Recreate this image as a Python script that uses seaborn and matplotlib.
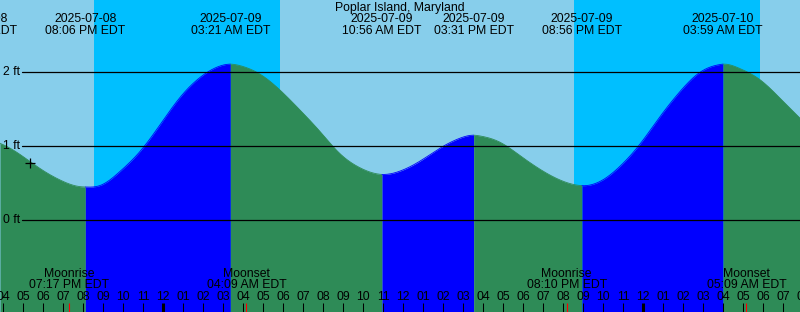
import numpy as np
import pandas as pd
import matplotlib
matplotlib.use("Agg")
import matplotlib.pyplot as plt
import seaborn as sns
from matplotlib.transforms import blended_transform_factory

# ---------------- data ----------------
station = "Poplar Island, Maryland"
view_start = "2025-07-08 15:50"
view_end = "2025-07-10 07:50"
sample_start = "2025-07-08 15:50"   # heights read every hour from here
sample_heights = [1.04, 0.89, 0.70, 0.545, 0.455, 0.47, 0.66, 0.93, 1.29, 1.66,
                  1.93, 2.085, 2.09, 1.975, 1.76, 1.49, 1.20, 0.90, 0.71, 0.622,
                  0.665, 0.80, 0.975, 1.11, 1.14, 1.055, 0.875, 0.69, 0.545, 0.47,
                  0.525, 0.73, 1.03, 1.40, 1.74, 2.00, 2.105, 2.05, 1.90, 1.65, 1.38]
prev_high_time = "2025-07-08 14:41"
prev_high_height = 1.11
extreme_times = ["2025-07-08 20:06", "2025-07-09 03:21", "2025-07-09 10:56",
                 "2025-07-09 15:31", "2025-07-09 20:56", "2025-07-10 03:59"]
extreme_heights = [0.45, 2.11, 0.62, 1.15, 0.468, 2.11]
extreme_types = ["low", "high", "low", "high", "low", "high"]
sunsets = ["2025-07-08 20:32", "2025-07-09 20:32"]
sunrises = ["2025-07-09 05:50", "2025-07-10 05:50"]
moon_times = ["2025-07-08 19:17", "2025-07-09 04:09", "2025-07-09 20:10", "2025-07-10 05:09"]
moon_events = ["Moonrise", "Moonset", "Moonrise", "Moonset"]
depth_ticks = [0, 1, 2]
now_time = "2025-07-08 17:20"
now_height = 0.78

# ---------------- style ----------------
DAY = "#87CEEB"
NIGHT = "#00BFFF"
RISE = "#0000FF"
FALL = "#2E8B57"
W, H = 800, 312

sns.set_theme(style="white")
plt.rcParams["font.family"] = ["Liberation Sans", "DejaVu Sans"]
FS = 8.8

t0 = pd.Timestamp("2025-07-08 16:00")
def hrs(s):
    return (pd.Timestamp(s) - t0) / pd.Timedelta(hours=1)


def smooth_curve(x, y, xn):
    """Natural cubic spline through the read points (used only for drawing)."""
    x = np.asarray(x, float); y = np.asarray(y, float)
    n = len(x)
    h = np.diff(x); delta = np.diff(y) / h
    A = np.zeros((n, n)); b = np.zeros(n)
    A[0, 0] = A[-1, -1] = 1.0
    for i in range(1, n - 1):
        A[i, i - 1] = h[i - 1]
        A[i, i] = 2 * (h[i - 1] + h[i])
        A[i, i + 1] = h[i]
        b[i] = 6 * (delta[i] - delta[i - 1])
    M = np.linalg.solve(A, b)
    idx = np.clip(np.searchsorted(x, xn) - 1, 0, n - 2)
    hi = h[idx]
    a = x[idx + 1] - xn
    c = xn - x[idx]
    return (M[idx] * a**3 / (6 * hi) + M[idx + 1] * c**3 / (6 * hi)
            + (y[idx] / hi - M[idx] * hi / 6) * a + (y[idx + 1] / hi - M[idx + 1] * hi / 6) * c)


x0, x1 = hrs(view_start), hrs(view_end)
px_per_ft = 74.0
zero_px = 220.3
y_top = zero_px / px_per_ft
y_bot = -(H - zero_px) / px_per_ft

fig = plt.figure(figsize=(W / 100, H / 100), dpi=100)
ax = fig.add_axes([0, 0, 1, 1])
ax.set_facecolor(DAY)
fig.patch.set_facecolor(DAY)

for ss, sr in zip(sunsets, sunrises):
    ax.axvspan(hrs(ss), hrs(sr), color=NIGHT, lw=0, zorder=0)

# tide series (read samples + read extremes)
samp_t = pd.date_range(sample_start, periods=len(sample_heights), freq="h")
df = pd.DataFrame({"hours": [(t - t0) / pd.Timedelta(hours=1) for t in samp_t],
                   "height": sample_heights})
ext = pd.DataFrame({"hours": [hrs(prev_high_time)] + [hrs(t) for t in extreme_times],
                    "height": [prev_high_height] + extreme_heights})
allpts = pd.concat([df, ext]).sort_values("hours").drop_duplicates("hours").reset_index(drop=True)

grid = np.union1d(np.linspace(x0, x1, 1601), [hrs(t) for t in extreme_times])
curve = pd.DataFrame({"hours": grid,
                      "height": smooth_curve(allpts["hours"], allpts["height"], grid)})

bounds = [x0] + [hrs(t) for t in extreme_times] + [x1]
kinds_next = list(extreme_types) + ["low"]
rows = []
for i in range(len(bounds) - 1):
    seg = curve[(curve["hours"] >= bounds[i]) & (curve["hours"] <= bounds[i + 1])].copy()
    phase = "rising" if kinds_next[i] == "high" else "falling"
    seg["phase"] = phase
    seg["segment"] = i
    rows.append(seg)
    ax.fill_between(seg["hours"], seg["height"], y_bot,
                    color=RISE if phase == "rising" else FALL, lw=0, zorder=1)
segs = pd.concat(rows)
sns.lineplot(data=segs, x="hours", y="height", hue="phase", units="segment",
             estimator=None, palette={"rising": RISE, "falling": FALL},
             legend=False, lw=0.6, ax=ax, zorder=2)
ax.set_xlim(x0, x1)
ax.set_ylim(y_bot, y_top)
ax.axis("off")

# depth lines
ytr = blended_transform_factory(ax.transAxes, ax.transData)
for d in depth_ticks:
    ax.axhline(d, xmin=22 / W, xmax=1, color="black", lw=0.9, zorder=3)
    ax.text(20 / W, d, f"{d} ft", transform=ytr, ha="right", va="center",
            fontsize=FS, color="black", zorder=4)

bt = blended_transform_factory(ax.transData, ax.transAxes)
def fy(py):
    return 1 - py / H

# title and extreme labels
ax.text(0.5, fy(7.5), station, transform=ax.transAxes, ha="center", va="center",
        fontsize=FS, color="black")
for t in [prev_high_time] + extreme_times:
    ts = pd.Timestamp(t)
    ax.text(hrs(t), fy(19.5), ts.strftime("%Y-%m-%d"), transform=bt, ha="center",
            va="center", fontsize=FS, color="black")
    ax.text(hrs(t), fy(31.5), ts.strftime("%I:%M %p EDT"), transform=bt, ha="center",
            va="center", fontsize=FS, color="black")

# moon events
for t, ev in zip(moon_times, moon_events):
    ts = pd.Timestamp(t)
    ax.text(hrs(t), fy(274), ev, transform=bt, ha="center", va="center",
            fontsize=FS, color="black")
    ax.text(hrs(t), fy(285), ts.strftime("%I:%M %p EDT"), transform=bt, ha="center",
            va="center", fontsize=FS, color="black")
    ax.vlines(hrs(t), 0, 9 / H, transform=bt, color="red", lw=0.8, zorder=5)

# hour ticks
hour_marks = pd.date_range("2025-07-08 16:00", "2025-07-10 08:00", freq="h")
for ts in hour_marks:
    h = (ts - t0) / pd.Timedelta(hours=1)
    ax.text(h, fy(297.5), ts.strftime("%I"), transform=bt, ha="center", va="center",
            fontsize=FS, color="black")
    lw = 2.2 if ts.hour == 0 else 0.75
    ax.vlines(h, 0, 9 / H, transform=bt, color="black", lw=lw, zorder=4)

# current-time marker
ax.plot([hrs(now_time)], [now_height], marker="+", color="black", ms=7, mew=0.9, zorder=6)

fig.savefig("out.png", dpi=100, facecolor=DAY)
